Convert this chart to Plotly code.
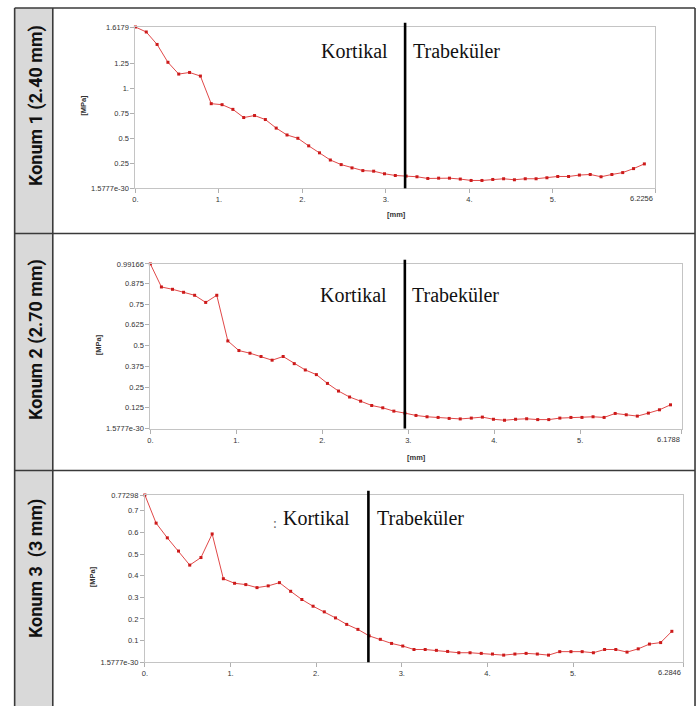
import plotly.graph_objects as go

W, H = 700, 711

# ---------------- data ----------------
p1_x = [0, 0.1297, 0.2594, 0.3891, 0.5188, 0.6485, 0.7782, 0.9079, 1.0376, 1.1673,
        1.297, 1.4267, 1.5564, 1.6861, 1.8158, 1.9455, 2.0752, 2.2049, 2.3346, 2.4643,
        2.594, 2.7237, 2.8534, 2.9831, 3.1128, 3.2425, 3.3722, 3.5019, 3.6316, 3.7613,
        3.891, 4.0207, 4.1504, 4.2801, 4.4098, 4.5395, 4.6692, 4.7989, 4.9286, 5.0583,
        5.188, 5.3177, 5.4474, 5.5771, 5.7068, 5.8365, 5.9662, 6.0959]
p1_y = [1.6179, 1.568, 1.443, 1.264, 1.146, 1.162, 1.126, 0.849, 0.839, 0.792,
        0.710, 0.730, 0.690, 0.604, 0.535, 0.502, 0.426, 0.356, 0.284, 0.238,
        0.205, 0.178, 0.172, 0.146, 0.129, 0.123, 0.116, 0.099, 0.102, 0.102,
        0.093, 0.079, 0.079, 0.089, 0.096, 0.086, 0.096, 0.096, 0.106, 0.119,
        0.119, 0.133, 0.139, 0.116, 0.139, 0.158, 0.198, 0.245]

p2_x = [0, 0.1287, 0.2575, 0.3862, 0.5149, 0.6436, 0.7724, 0.9011, 1.0298, 1.1585,
        1.2873, 1.416, 1.5447, 1.6734, 1.8022, 1.9309, 2.0596, 2.1883, 2.3171, 2.4458,
        2.5745, 2.7032, 2.832, 2.9607, 3.0894, 3.2181, 3.3469, 3.4756, 3.6043, 3.733,
        3.8618, 3.9905, 4.1192, 4.2479, 4.3767, 4.5054, 4.6341, 4.7628, 4.8916, 5.0203,
        5.149, 5.2777, 5.4065, 5.5352, 5.6639, 5.7926, 5.9214, 6.0501]
p2_y = [0.99166, 0.853, 0.839, 0.821, 0.803, 0.760, 0.803, 0.528, 0.470, 0.454,
        0.434, 0.412, 0.434, 0.391, 0.353, 0.325, 0.272, 0.226, 0.190, 0.165,
        0.139, 0.125, 0.105, 0.093, 0.079, 0.071, 0.067, 0.061, 0.058, 0.063,
        0.069, 0.056, 0.050, 0.056, 0.059, 0.054, 0.054, 0.063, 0.067, 0.067,
        0.071, 0.067, 0.091, 0.083, 0.075, 0.093, 0.113, 0.143]

p3_x = [0, 0.1309, 0.2619, 0.3928, 0.5237, 0.6547, 0.7856, 0.9165, 1.0474, 1.1784,
        1.3093, 1.4402, 1.5712, 1.7021, 1.833, 1.964, 2.0949, 2.2258, 2.3567, 2.4877,
        2.6186, 2.7495, 2.8805, 3.0114, 3.1423, 3.2733, 3.4042, 3.5351, 3.666, 3.797,
        3.9279, 4.0588, 4.1898, 4.3207, 4.4516, 4.5826, 4.7135, 4.8444, 4.9753, 5.1063,
        5.2372, 5.3681, 5.4991, 5.63, 5.7609, 5.8919, 6.0228, 6.1537]
p3_y = [0.77298, 0.643, 0.575, 0.514, 0.449, 0.484, 0.593, 0.386, 0.365, 0.359,
        0.345, 0.353, 0.368, 0.328, 0.290, 0.259, 0.233, 0.205, 0.175, 0.152,
        0.122, 0.106, 0.087, 0.075, 0.059, 0.059, 0.055, 0.050, 0.044, 0.044,
        0.041, 0.038, 0.033, 0.038, 0.041, 0.038, 0.033, 0.049, 0.049, 0.049,
        0.044, 0.059, 0.059, 0.047, 0.062, 0.084, 0.091, 0.143]

x_max = [6.2256, 6.1788, 6.2846]
y_max = [1.6179, 0.99166, 0.77298]
y_tickvals = [
    [0, 0.25, 0.5, 0.75, 1.0, 1.25, 1.6179],
    [0, 0.125, 0.25, 0.375, 0.5, 0.625, 0.75, 0.875, 0.99166],
    [0, 0.1, 0.2, 0.3, 0.4, 0.5, 0.6, 0.7, 0.77298],
]
y_ticktext = [
    ["1.5777e-30", "0.25", "0.5", "0.75", "1.", "1.25", "1.6179"],
    ["1.5777e-30", "0.125", "0.25", "0.375", "0.5", "0.625", "0.75", "0.875", "0.99166"],
    ["1.5777e-30", "0.1", "0.2", "0.3", "0.4", "0.5", "0.6", "0.7", "0.77298"],
]
x_tickvals = [0, 1, 2, 3, 4, 5]
x_ticktext = ["0.", "1.", "2.", "3.", "4.", "5."]
x_end_text = ["6.2256", "6.1788", "6.2846"]
boundary_x = [3.23, 2.96, 2.61]
row_labels = ["Konum 1 (2.40 mm)", "Konum 2 (2.70 mm)", "Konum 3  (3 mm)"]

# ---------------- layout geometry (pixels) ----------------
frames = [  # x0, x1, ytop, ybottom
    (133, 655, 23.3, 186.7),
    (148, 681.5, 263.3, 430),
    (142.5, 683, 497.3, 666.7),
]
row_label_y = [103, 340, 572]
mpa_pos = [(81, 102.5), (96, 345), (90, 580)]
mm_pos = [(394.7, 213.3), (415.7, 459.3), None]
text_pos = [  # kortikal left, trabekuler left, center y
    (317.2, 409.5, 47.5),
    (316.5, 408.5, 294.5),
    (279.5, 373.8, 520.5),
]


def px(x):
    return x / W


def py(y):
    return 1 - y / H


series = [(p1_x, p1_y), (p2_x, p2_y), (p3_x, p3_y)]

fig = go.Figure()
annotations = []
shapes = []

# table background and borders
shapes.append(dict(type="rect", xref="paper", yref="paper", x0=px(11.7), x1=px(50),
                   y0=py(711), y1=py(4), fillcolor="#d9d9d9", line=dict(width=0), layer="below"))
border = dict(color="#3a3a3a", width=1.6)
for (xa, ya, xb, yb) in [(11.7, 4, 695, 4), (11.7, 232.5, 695, 232.5), (11.7, 472.5, 695, 472.5),
                         (11.7, 4, 11.7, 711), (50, 4, 50, 711), (695, 4, 695, 711)]:
    shapes.append(dict(type="line", xref="paper", yref="paper", x0=px(xa), x1=px(xb),
                       y0=py(ya), y1=py(yb), line=border))

tick_font = dict(family="Liberation Sans", size=7.5, color="#333333")

for i, ((xs, ys), (fx0, fx1, fyt, fyb)) in enumerate(zip(series, frames)):
    n = "" if i == 0 else str(i + 1)
    xa = "x" + n
    ya = "y" + n
    fig.add_trace(go.Scatter(
        x=xs, y=ys, mode="lines+markers", xaxis=xa, yaxis=ya,
        line=dict(color="#e04848", width=1),
        marker=dict(symbol="square", size=3, color="#cc1a1a"),
        cliponaxis=False, showlegend=False, hoverinfo="skip"))

    common = dict(showline=True, linecolor="#c4c4c4", linewidth=1, mirror=True,
                  showgrid=False, zeroline=False, ticks="outside", ticklen=4,
                  tickcolor="#b0b0b0", tickfont=tick_font, fixedrange=True)
    fig.update_layout(**{
        "xaxis" + n: dict(domain=[px(fx0), px(fx1)], range=[0, x_max[i]], anchor=ya,
                          tickmode="array", tickvals=x_tickvals + [x_max[i]],
                          ticktext=x_ticktext + [""], **common),
        "yaxis" + n: dict(domain=[py(fyb), py(fyt)], range=[0, y_max[i]], anchor=xa,
                          tickmode="array", tickvals=y_tickvals[i],
                          ticktext=y_ticktext[i], **common),
    })

    # right-end x label aligned to the frame edge
    annotations.append(dict(x=x_max[i], xref=xa, y=py(fyb + 10.6), yref="paper",
                            text=x_end_text[i], showarrow=False, xanchor="right",
                            yanchor="middle", font=tick_font))

    # boundary line
    shapes.append(dict(type="line", xref=xa, yref=ya + " domain", x0=boundary_x[i],
                       x1=boundary_x[i], y0=0, y1=1 + 4.3 / (fyb - fyt),
                       line=dict(color="black", width=2.6)))

    # region labels
    kx, tx, cy = text_pos[i]
    serif = dict(family="Liberation Serif", size=20, color="#111111")
    annotations.append(dict(x=px(kx), y=py(cy), xref="paper", yref="paper", text="Kortikal",
                            showarrow=False, xanchor="left", yanchor="middle", font=serif))
    annotations.append(dict(x=px(tx), y=py(cy), xref="paper", yref="paper", text="Trabeküler",
                            showarrow=False, xanchor="left", yanchor="middle", font=serif))

    # axis titles
    mx, my = mpa_pos[i]
    annotations.append(dict(x=px(mx), y=py(my), xref="paper", yref="paper", text="<b>[MPa]</b>",
                            showarrow=False, textangle=-90, xanchor="center", yanchor="middle",
                            font=dict(family="Liberation Sans", size=7.5, color="#333333")))
    if mm_pos[i] is not None:
        mmx, mmy = mm_pos[i]
        annotations.append(dict(x=px(mmx), y=py(mmy), xref="paper", yref="paper", text="<b>[mm]</b>",
                                showarrow=False, xanchor="center", yanchor="middle",
                                font=dict(family="Liberation Sans", size=7.5, color="#333333")))

    # row label
    annotations.append(dict(x=px(32.5), y=py(row_label_y[i]), xref="paper", yref="paper",
                            text="<b>" + row_labels[i] + "</b>", showarrow=False, textangle=-90,
                            xanchor="center", yanchor="middle",
                            font=dict(family="Roboto", size=18, color="#111111")))

# small stray marks before "Kortikal" in the third panel
annotations.append(dict(x=px(273), y=py(526), xref="paper", yref="paper", text=":",
                        showarrow=False, xanchor="center", yanchor="middle",
                        font=dict(family="Liberation Serif", size=14, color="#666666")))

fig.update_layout(
    width=W, height=H, margin=dict(l=0, r=0, t=0, b=0),
    paper_bgcolor="white", plot_bgcolor="white",
    annotations=annotations, shapes=shapes, showlegend=False,
)

fig.write_html("out.html", include_plotlyjs=True, config={"displayModeBar": False})
